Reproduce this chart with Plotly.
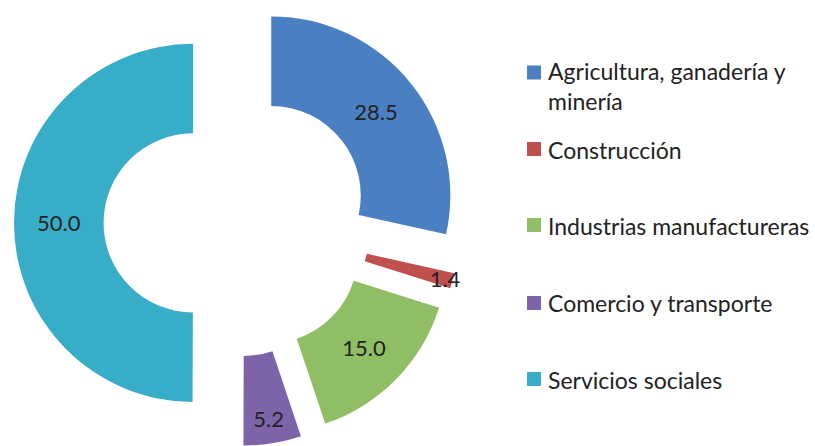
import plotly.graph_objects as go

labels = ["Agricultura, ganadería y minería", "Construcción", "Industrias manufactureras",
          "Comercio y transporte", "Servicios sociales"]
legend_text = ["Agricultura, ganadería y<br>minería", "Construcción", "Industrias manufactureras",
               "Comercio y transporte", "Servicios sociales"]
values = [28.5, 1.4, 15.0, 5.2, 50.0]
colors = ["#4A7FC1", "#C0504D", "#8FBE64", "#7D64A8", "#38ADC8"]

W, H = 815, 446
FONT = "Lato"
TXT = "#222222"

fig = go.Figure()
fig.add_trace(go.Pie(
    labels=labels, values=values, sort=False, direction="clockwise", rotation=0,
    hole=0.5, pull=[0.245] * len(values),
    marker=dict(colors=colors, line=dict(width=0)),
    text=[f"{v:.1f}" for v in values], textinfo="text",
    textposition="inside", insidetextorientation="horizontal",
    textfont=dict(family=FONT, size=22, color=TXT),
    domain=dict(x=[0, 0.5816], y=[0.0, 1]),
    showlegend=False,
))

# legend built from the same label/color lists
item_y = [72.5, 149, 225, 303, 379]
text_y = [86, 150, 226, 303, 380]
shapes = []
annotations = []
for i, (t, c) in enumerate(zip(legend_text, colors)):
    shapes.append(dict(type="rect", xref="paper", yref="paper",
                       x0=527 / W, x1=541 / W,
                       y0=1 - (item_y[i] + 7) / H, y1=1 - (item_y[i] - 7) / H,
                       fillcolor=c, line=dict(width=0)))
    annotations.append(dict(xref="paper", yref="paper", x=546 / W, y=1 - text_y[i] / H,
                            xanchor="left", yanchor="middle", align="left", showarrow=False,
                            text=t, font=dict(family=FONT, size=23, color=TXT)))

fig.update_layout(
    width=W, height=H, margin=dict(l=0, r=0, t=0, b=0),
    paper_bgcolor="white", plot_bgcolor="white",
    uniformtext=dict(minsize=22, mode="show"),
    shapes=shapes, annotations=annotations,
)
fig.write_html("out.html", config={"displayModeBar": False},
               post_script="document.body.style.margin='0';document.body.style.overflow='hidden';")
